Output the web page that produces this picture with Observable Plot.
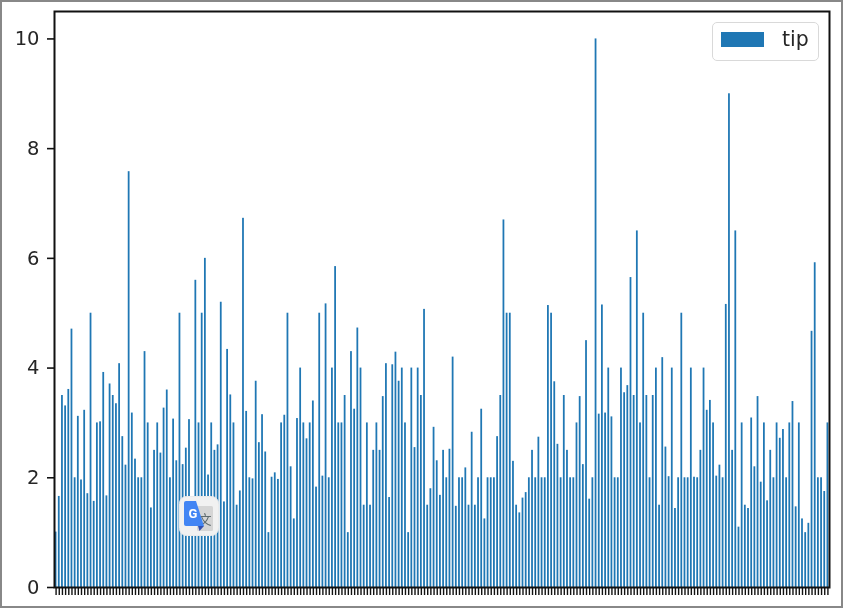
<!DOCTYPE html>
<html>
<head>
<meta charset="utf-8">
<script src="https://cdn.jsdelivr.net/npm/d3@7"></script>
<script src="https://cdn.jsdelivr.net/npm/@observablehq/plot@0.6"></script>
<style>
html,body{margin:0;padding:0;background:#fff;width:843px;height:608px;overflow:hidden}
#wrap{position:relative;width:843px;height:608px;font-family:"DejaVu Sans",sans-serif;color:#262626}
#wrap svg.plot, #wrap > svg{display:block;position:absolute;left:0;top:0;filter:blur(0.4px)}
#edge{position:absolute;inset:0;border:2px solid #888;box-sizing:border-box;pointer-events:none}
#legend{position:absolute;left:712px;top:22px;width:107px;height:39px;box-sizing:border-box;background:#fff;border:1.5px solid #d9d9d9;border-radius:5px;filter:blur(0.4px)}
#legend i{position:absolute;left:8px;top:8.500px;width:43px;height:15px;background:#1f77b4}
#legend span{position:absolute;left:69px;top:3px;font-size:20.500px;line-height:26px}
#icon{position:absolute;left:179px;top:496px;width:40px;height:40px;filter:blur(0.4px)}
</style>
</head>
<body>
<div id="wrap">
<div id="edge"></div>
</div>
<script>
const tip = [
1.01,1.66,3.5,3.31,3.61,4.71,2,3.12,1.96,3.23,
1.71,5,1.57,3,3.02,3.92,1.67,3.71,3.5,3.35,
4.08,2.75,2.23,7.58,3.18,2.34,2,2,4.3,3,
1.45,2.5,3,2.45,3.27,3.6,2,3.07,2.31,5,
2.24,2.54,3.06,1.32,5.6,3,5,6,2.05,3,
2.5,2.6,5.2,1.56,4.34,3.51,3,1.5,1.76,6.73,
3.21,2,1.98,3.76,2.64,3.15,2.47,1,2.01,2.09,
1.97,3,3.14,5,2.2,1.25,3.08,4,3,2.71,
3,3.4,1.83,5,2.03,5.17,2,4,5.85,3,
3,3.5,1,4.3,3.25,4.73,4,1.5,3,1.5,
2.5,3,2.5,3.48,4.08,1.64,4.06,4.29,3.76,4,
3,1,4,2.55,4,3.5,5.07,1.5,1.8,2.92,
2.31,1.68,2.5,2,2.52,4.2,1.48,2,2,2.18,
1.5,2.83,1.5,2,3.25,1.25,2,2,2,2.75,
3.5,6.7,5,5,2.3,1.5,1.36,1.63,1.73,2,
2.5,2,2.74,2,2,5.14,5,3.75,2.61,2,
3.5,2.5,2,2,3,3.48,2.24,4.5,1.61,2,
10,3.16,5.15,3.18,4,3.11,2,2,4,3.55,
3.68,5.65,3.5,6.5,3,5,3.5,2,3.5,4,
1.5,4.19,2.56,2.02,4,1.44,2,5,2,2,
4,2.01,2,2.5,4,3.23,3.41,3,2.03,2.23,
2,5.16,9,2.5,6.5,1.1,3,1.5,1.44,3.09,
2.2,3.48,1.92,3,1.58,2.5,2,3,2.72,2.88,
2,3,3.39,1.47,3,1.25,1,1.17,4.67,5.92,
2,2,1.75,3
];
const rowIndex = tip.map((_, i) => i);
const yTicks = [0, 2, 4, 6, 8, 10];
const seriesName = "tip";

const chart = Plot.plot({
  width: 843,
  height: 608,
  marginLeft: 54,
  marginRight: 14,
  marginTop: 11,
  marginBottom: 21,
  style: {background: "transparent", fontFamily: '"DejaVu Sans", sans-serif', color: "#262626", overflow: "visible"},
  x: {type: "band", domain: rowIndex, paddingInner: 0.44, paddingOuter: 0.22, align: 0.5, round: false, axis: null},
  y: {domain: [0, 10.5], axis: null},
  marks: [
    Plot.barY(rowIndex, {x: d => d, y: d => tip[d], fill: "#1f77b4"}),
    Plot.axisX({ticks: rowIndex, tickSize: 8, tickFormat: () => "", stroke: "#111", strokeWidth: 1.4, label: null}),
    Plot.axisY({ticks: yTicks, tickSize: 7, tickPadding: 8, fontSize: 19.5, stroke: "#111", strokeWidth: 1.6, label: null, tickFormat: d => String(d), fill: "#262626"}),
    Plot.frame({stroke: "#111", strokeWidth: 2})
  ]
});
const wrap = document.getElementById("wrap");
wrap.insertBefore(chart, wrap.firstChild);

const legend = document.createElement("div");
legend.id = "legend";
legend.innerHTML = "<i></i><span>" + seriesName + "</span>";
wrap.appendChild(legend);

const icon = document.createElement("div");
icon.id = "icon";
icon.innerHTML = `<svg width="40" height="40" viewBox="0 0 40 40">
<rect x="0.5" y="0.5" width="39" height="39" rx="7" fill="#f1f1f1" stroke="#eaeaea"/>
<rect x="18" y="10" width="16" height="25" rx="1.5" fill="#d5d5d5"/>
<text x="26" y="28" font-size="13" text-anchor="middle" fill="#5f6b6e" font-family="'Noto Sans CJK SC'">文</text>
<path d="M5 7a2 2 0 0 1 2-2H17L25 30H7a2 2 0 0 1-2-2Z" fill="#4285f4"/>
<path d="M19 30h6l-4.500 5Z" fill="#3451b2"/>
<text x="14" y="22" font-size="13" font-weight="bold" text-anchor="middle" fill="#fff" font-family="Roboto">G</text>
</svg>`;
wrap.appendChild(icon);
</script>
</body>
</html>
